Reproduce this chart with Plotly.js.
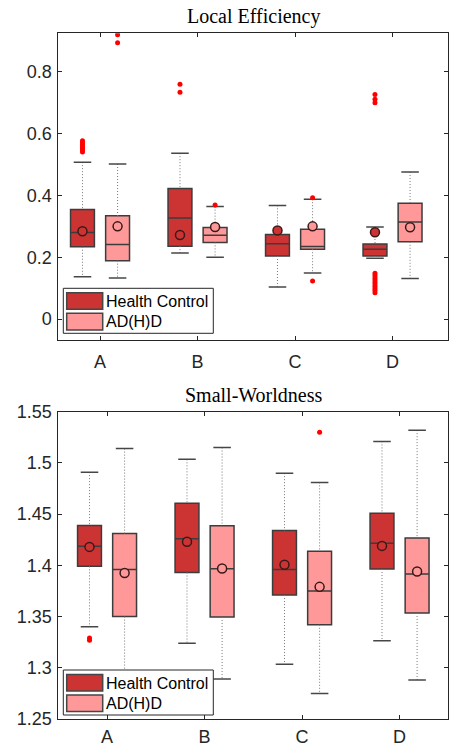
<!DOCTYPE html>
<html>
<head>
<meta charset="utf-8">
<script src="https://cdn.plot.ly/plotly-3.0.1.min.js"></script>
<style>html,body{margin:0;padding:0;background:#fff;}#chart{width:449px;height:747px;}</style>
</head>
<body>
<div id="chart"></div>
<script>
// ---------- data ----------
const categories = ['A', 'B', 'C', 'D'];
const groupNames = ['Health Control', 'AD(H)D'];

// Local Efficiency - Health Control
const leHcQ1 = [0.234, 0.236, 0.204, 0.204];
const leHcMed = [0.280, 0.327, 0.244, 0.226];
const leHcQ3 = [0.355, 0.423, 0.274, 0.243];
const leHcLow = [0.137, 0.214, 0.104, 0.197];
const leHcHigh = [0.508, 0.537, 0.368, 0.298];
const leHcMean = [0.284, 0.272, 0.287, 0.281];
const leHcOut = [
  [0.577, 0.571, 0.565, 0.559, 0.553, 0.547, 0.541],
  [0.760, 0.734],
  [],
  [0.727, 0.712, 0.700, 0.148, 0.141, 0.134, 0.127, 0.120, 0.113, 0.106, 0.099, 0.092, 0.085]
];
// Local Efficiency - AD(H)D
const leAdQ1 = [0.189, 0.248, 0.226, 0.250];
const leAdMed = [0.241, 0.271, 0.235, 0.314];
const leAdQ3 = [0.334, 0.296, 0.291, 0.375];
const leAdLow = [0.133, 0.200, 0.149, 0.131];
const leAdHigh = [0.502, 0.364, 0.388, 0.476];
const leAdMean = [0.300, 0.298, 0.300, 0.297];
const leAdOut = [[0.921, 0.895], [0.369], [0.393, 0.123], []];

// Small-Worldness - Health Control
const swHcQ1 = [1.399, 1.393, 1.371, 1.3964];
const swHcMed = [1.4186, 1.426, 1.396, 1.4215];
const swHcQ3 = [1.439, 1.4606, 1.434, 1.4508];
const swHcLow = [1.340, 1.324, 1.3034, 1.3265];
const swHcHigh = [1.491, 1.5035, 1.490, 1.521];
const swHcMean = [1.418, 1.423, 1.4006, 1.419];
const swHcOut = [[1.329, 1.327], [], [], []];
// Small-Worldness - AD(H)D
const swAdQ1 = [1.350, 1.3496, 1.342, 1.3535];
const swAdMed = [1.396, 1.3967, 1.375, 1.3916];
const swAdQ3 = [1.431, 1.4387, 1.4137, 1.4267];
const swAdLow = [1.288, 1.289, 1.275, 1.288];
const swAdHigh = [1.514, 1.515, 1.481, 1.532];
const swAdMean = [1.3925, 1.397, 1.379, 1.394];
const swAdOut = [[], [], [1.530], []];

const leTickVals = [0, 0.2, 0.4, 0.6, 0.8];
const leTickText = ['0', '0.2', '0.4', '0.6', '0.8'];
const swTickVals = [1.25, 1.3, 1.35, 1.4, 1.45, 1.5, 1.55];
const swTickText = ['1.25', '1.3', '1.35', '1.4', '1.45', '1.5', '1.55'];

// ---------- styles ----------
const W = 449, H = 747;
const hcFill = '#cc3333';
const adFill = '#ff9999';
const boxLine = 'rgb(60,60,60)';
const offset = 0.18, boxW = 0.245, capHalf = 0.09;
const fontSans = 'Liberation Sans, Arial, Helvetica, sans-serif';
const fontSerif = 'Liberation Serif, Times New Roman, serif';

function groupTraces(cfg) {
  const pos = categories.map((c, i) => i + 1 + cfg.shift);
  const traces = [];
  traces.push({
    type: 'box', x: pos, q1: cfg.q1, median: cfg.med, q3: cfg.q3,
    lowerfence: cfg.q1, upperfence: cfg.q3, width: boxW, whiskerwidth: 0,
    boxpoints: false, fillcolor: cfg.fill, line: {color: boxLine, width: 1.5},
    xaxis: cfg.xa, yaxis: cfg.ya, showlegend: false, hoverinfo: 'skip'
  });
  const wx = [], wy = [], cx = [], cy = [];
  pos.forEach((p, i) => {
    wx.push(p, p, null, p, p, null);
    wy.push(cfg.high[i], cfg.q3[i], null, cfg.q1[i], cfg.low[i], null);
    cx.push(p - capHalf, p + capHalf, null, p - capHalf, p + capHalf, null);
    cy.push(cfg.high[i], cfg.high[i], null, cfg.low[i], cfg.low[i], null);
  });
  traces.push({type: 'scatter', mode: 'lines', x: wx, y: wy, line: {color: 'rgb(120,120,120)', width: 1, dash: '1px,2px'},
    xaxis: cfg.xa, yaxis: cfg.ya, showlegend: false, hoverinfo: 'skip'});
  traces.push({type: 'scatter', mode: 'lines', x: cx, y: cy, line: {color: 'rgb(70,70,70)', width: 1.5},
    xaxis: cfg.xa, yaxis: cfg.ya, showlegend: false, hoverinfo: 'skip'});
  traces.push({type: 'scatter', mode: 'markers', x: pos, y: cfg.mean,
    marker: {symbol: 'circle', size: 9, color: cfg.fill, line: {color: 'rgb(60,25,25)', width: 1.5}},
    xaxis: cfg.xa, yaxis: cfg.ya, showlegend: false, hoverinfo: 'skip'});
  const ox = [], oy = [];
  cfg.out.forEach((arr, i) => arr.forEach(v => { ox.push(pos[i]); oy.push(v); }));
  traces.push({type: 'scatter', mode: 'markers', x: ox, y: oy,
    marker: {symbol: 'circle', size: 5, color: '#ff0000'},
    xaxis: cfg.xa, yaxis: cfg.ya, showlegend: false, hoverinfo: 'skip'});
  return traces;
}

const data = [].concat(
  groupTraces({shift: -offset, q1: leHcQ1, med: leHcMed, q3: leHcQ3, low: leHcLow, high: leHcHigh, mean: leHcMean, out: leHcOut, fill: hcFill, xa: 'x', ya: 'y'}),
  groupTraces({shift: offset, q1: leAdQ1, med: leAdMed, q3: leAdQ3, low: leAdLow, high: leAdHigh, mean: leAdMean, out: leAdOut, fill: adFill, xa: 'x', ya: 'y'}),
  groupTraces({shift: -offset, q1: swHcQ1, med: swHcMed, q3: swHcQ3, low: swHcLow, high: swHcHigh, mean: swHcMean, out: swHcOut, fill: hcFill, xa: 'x2', ya: 'y2'}),
  groupTraces({shift: offset, q1: swAdQ1, med: swAdMed, q3: swAdQ3, low: swAdLow, high: swAdHigh, mean: swAdMean, out: swAdOut, fill: adFill, xa: 'x2', ya: 'y2'})
);

const axisCommon = {
  showline: true, linecolor: '#262626', linewidth: 1, mirror: 'ticks',
  ticks: 'inside', ticklen: 4, tickwidth: 1, tickcolor: '#262626',
  showgrid: false, zeroline: false, fixedrange: true,
  tickfont: {family: fontSans, size: 18, color: '#262626'}
};
const xDomain = [58.3 / W, 448.3 / W];
const catVals = categories.map((c, i) => i + 1);

function legendItems(top) {
  const shapes = [], ann = [];
  const x0 = 63.3, x1 = 213.3;
  shapes.push({type: 'rect', xref: 'paper', yref: 'paper', layer: 'above',
    x0: x0 / W, x1: x1 / W, y0: 1 - top / H, y1: 1 - (top + 45) / H,
    fillcolor: '#ffffff', line: {color: '#262626', width: 1}});
  [hcFill, adFill].forEach((f, k) => {
    const yt = top + 4.4 + k * 20.6;
    shapes.push({type: 'rect', xref: 'paper', yref: 'paper', layer: 'above',
      x0: 66.7 / W, x1: 102.7 / W, y0: 1 - yt / H, y1: 1 - (yt + 16.6) / H,
      fillcolor: f, line: {color: 'rgb(70,70,70)', width: 1.5}});
    ann.push({xref: 'paper', yref: 'paper', x: 104 / W, y: 1 - (yt + 8.6) / H,
      xanchor: 'left', yanchor: 'middle', showarrow: false, text: groupNames[k],
      font: {family: fontSans, size: 16, color: '#000'}});
  });
  return {shapes, ann};
}
const lg1 = legendItems(288.3);
const lg2 = legendItems(670);

const layout = {
  width: W, height: H,
  margin: {l: 0, r: 0, t: 0, b: 0},
  paper_bgcolor: '#ffffff', plot_bgcolor: '#ffffff',
  showlegend: false, boxmode: 'overlay',
  xaxis: Object.assign({}, axisCommon, {domain: xDomain, range: [0.572, 4.572], tickvals: catVals, ticktext: categories, anchor: 'y', ticklabelstandoff: 5}),
  yaxis: Object.assign({}, axisCommon, {domain: [1 - 340 / H, 1 - 33.3 / H], range: [-0.068, 0.9253], tickvals: leTickVals, ticktext: leTickText, anchor: 'x', ticklabelstandoff: 2}),
  xaxis2: Object.assign({}, axisCommon, {domain: xDomain, range: [0.5, 4.5], tickvals: catVals, ticktext: categories, anchor: 'y2', ticklabelstandoff: 1}),
  yaxis2: Object.assign({}, axisCommon, {domain: [1 - 719 / H, 1 - 411.7 / H], range: [1.25, 1.55], tickvals: swTickVals, ticktext: swTickText, anchor: 'x2', ticklabelstandoff: 2}),
  shapes: lg1.shapes.concat(lg2.shapes),
  annotations: [
    {xref: 'paper', yref: 'paper', x: 253 / W, y: 1 - 17 / H, xanchor: 'center', yanchor: 'middle', showarrow: false,
     text: 'Local Efficiency', font: {family: fontSerif, size: 20, color: '#000'}},
    {xref: 'paper', yref: 'paper', x: 253 / W, y: 1 - 395 / H, xanchor: 'center', yanchor: 'middle', showarrow: false,
     text: 'Small-Worldness', font: {family: fontSerif, size: 20, color: '#000'}}
  ].concat(lg1.ann, lg2.ann)
};

Plotly.newPlot('chart', data, layout, {displayModeBar: false, staticPlot: true});
</script>
</body>
</html>
